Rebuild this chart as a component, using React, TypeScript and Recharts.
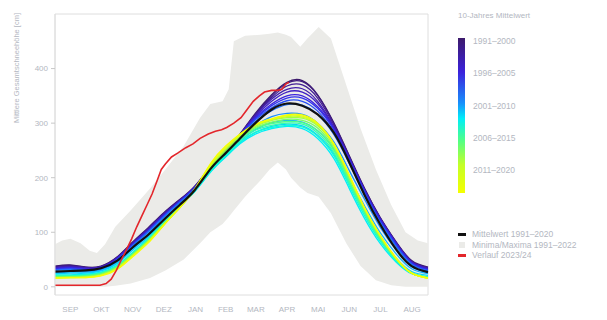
import React from 'react';
import { ComposedChart, Line, Area, XAxis, YAxis, ReferenceArea } from 'recharts';

// Semi-monthly sampling days, counted from 1 September
const days = [0, 15, 30, 45, 61, 76, 91, 106, 122, 137, 153, 167, 181, 196, 212, 227, 242, 257, 273, 288, 303, 318, 334, 349, 365];

const monthLabels = ['SEP', 'OKT', 'NOV', 'DEZ', 'JAN', 'FEB', 'MAR', 'APR', 'MAI', 'JUN', 'JUL', 'AUG'];
const monthStarts = [0, 30, 61, 91, 122, 153, 181, 212, 242, 273, 303, 334, 365];
const monthMids = monthStarts.slice(0, -1).map((s, i) => (s + monthStarts[i + 1]) / 2);
const yTicks = [0, 100, 200, 300, 400];

// 10-year running means of snow depth [cm]
const win1991 = [38, 40, 36, 38, 55, 82, 108, 135, 160, 185, 222, 250, 280, 318, 352, 375, 378, 352, 300, 240, 180, 128, 82, 48, 36];
const win1992 = [37, 39, 36, 37, 54, 81, 107, 134, 159, 184, 221, 249, 279, 316, 350, 373, 376, 351, 299, 239, 179, 127, 81, 47, 35];
const win1993 = [36, 38, 35, 37, 54, 80, 106, 133, 158, 184, 221, 249, 279, 315, 347, 368, 370, 346, 296, 237, 178, 126, 80, 46, 35];
const win1994 = [35, 37, 35, 36, 53, 80, 105, 132, 158, 183, 220, 248, 279, 314, 344, 362, 363, 340, 293, 236, 177, 126, 80, 46, 34];
const win1995 = [34, 36, 34, 36, 53, 79, 104, 131, 157, 183, 220, 248, 278, 312, 340, 357, 357, 336, 291, 235, 177, 125, 79, 45, 33];
const win1996 = [33, 35, 33, 35, 52, 78, 103, 130, 157, 183, 220, 248, 278, 310, 335, 350, 350, 330, 290, 235, 176, 124, 78, 44, 32];
const win1997 = [32, 34, 32, 34, 51, 77, 102, 129, 156, 182, 219, 247, 277, 308, 332, 346, 346, 327, 287, 232, 174, 122, 77, 43, 31];
const win1998 = [31, 33, 31, 33, 50, 76, 101, 128, 155, 181, 219, 247, 276, 306, 328, 341, 340, 322, 283, 229, 172, 120, 75, 42, 30];
const win1999 = [30, 32, 30, 32, 49, 75, 100, 127, 154, 180, 218, 246, 275, 303, 323, 334, 333, 316, 279, 226, 169, 118, 73, 41, 29];
const win2000 = [28, 29, 28, 31, 47, 72, 97, 124, 152, 178, 216, 243, 271, 295, 312, 318, 316, 300, 265, 213, 160, 110, 67, 37, 26];
const win2001 = [26, 27, 27, 30, 45, 70, 94, 122, 150, 177, 215, 241, 267, 288, 301, 305, 302, 286, 252, 200, 148, 100, 60, 33, 24];
const win2002 = [24, 25, 25, 29, 43, 67, 91, 120, 149, 176, 213, 239, 264, 283, 294, 298, 295, 278, 243, 190, 137, 90, 52, 28, 21];
const win2003 = [22, 22, 23, 27, 40, 63, 88, 118, 148, 175, 212, 238, 262, 280, 290, 294, 290, 272, 235, 180, 125, 80, 45, 24, 18];
const win2004 = [21, 21, 22, 26, 39, 62, 87, 117, 147, 176, 214, 240, 265, 283, 292, 296, 293, 276, 240, 185, 130, 84, 47, 25, 18];
const win2005 = [20, 20, 21, 25, 38, 61, 86, 116, 147, 177, 216, 243, 268, 287, 296, 300, 298, 282, 246, 190, 134, 87, 49, 25, 18];
const win2006 = [19, 19, 20, 24, 37, 60, 85, 115, 146, 178, 218, 246, 271, 290, 299, 303, 301, 286, 250, 194, 137, 89, 50, 25, 17];
const win2007 = [18, 18, 19, 23, 36, 59, 84, 114, 146, 178, 220, 248, 273, 292, 302, 307, 305, 291, 254, 198, 140, 91, 51, 25, 17];
const win2008 = [17, 18, 18, 22, 35, 58, 83, 113, 145, 179, 222, 251, 276, 294, 305, 310, 309, 295, 258, 201, 142, 93, 51, 25, 16];
const win2009 = [17, 17, 18, 21, 34, 57, 82, 113, 145, 179, 224, 253, 278, 296, 306, 312, 311, 297, 260, 203, 143, 94, 52, 25, 16];
const win2010 = [16, 17, 17, 21, 33, 56, 81, 112, 145, 180, 226, 255, 279, 297, 307, 314, 313, 299, 261, 204, 144, 95, 52, 25, 16];
const win2011 = [16, 17, 17, 20, 32, 55, 80, 112, 145, 180, 228, 258, 280, 298, 308, 315, 315, 300, 262, 205, 145, 95, 52, 25, 16];

const windowSeries = [
  win1991, win1992, win1993, win1994, win1995, win1996, win1997, win1998, win1999, win2000, win2001,
  win2002, win2003, win2004, win2005, win2006, win2007, win2008, win2009, win2010, win2011,
];
const windowColors = [
  '#3d1a6b', '#3f1c80', '#421d96', '#431fac', '#4020c4', '#3b22dc', '#3030ee', '#2850f5', '#2070fa', '#1890fc', '#10b0fd',
  '#08d0fc', '#00eef8', '#10fcd8', '#30ffb0', '#50ff88', '#78ff60', '#a0ff40', '#c4ff28', '#e2ff14', '#f5ff00',
];

// Mean 1991–2020
const meanValues = [28, 29, 30, 34, 48, 72, 95, 122, 150, 178, 218, 245, 272, 300, 325, 336, 332, 316, 282, 228, 168, 115, 68, 38, 27];

// Minimum / maximum envelope 1991–2022
const bandDays = [0, 7, 15, 25, 34, 41, 49, 59, 74, 93, 108, 126, 142, 152, 164, 170, 175, 186, 201, 210, 218, 226, 231, 240, 247, 258, 270, 285, 299, 314, 329, 343, 355, 365];
const bandMin = [0, 0, 0, 0, 0, 0, 0, 2, 6, 16, 30, 50, 80, 100, 115, 128, 140, 165, 195, 215, 228, 215, 200, 182, 172, 165, 135, 80, 38, 12, 3, 0, 0, 0];
const bandMax = [78, 85, 88, 80, 66, 62, 78, 110, 140, 180, 215, 258, 310, 335, 340, 362, 450, 460, 462, 464, 466, 462, 458, 440, 455, 476, 455, 370, 290, 215, 150, 100, 85, 80];

// Season 2023/24
const redDays = [0, 44, 50, 55, 60, 65, 70, 75, 80, 85, 90, 95, 100, 104, 108, 114, 120, 128, 135, 142, 150, 157, 163, 168, 175, 182, 188, 194, 200, 205, 212, 218, 222, 226, 229];
const redValues = [3, 3, 6, 14, 30, 50, 68, 88, 110, 130, 150, 170, 195, 215, 225, 238, 245, 255, 262, 272, 280, 285, 288, 292, 300, 310, 325, 340, 350, 357, 360, 360, 362, 372, 375];

const colorbarLabels = ['1991–2000', '1996–2005', '2001–2010', '2006–2015', '2011–2020'];

const FONT = '"Liberation Sans", Arial, Helvetica, sans-serif';
const TEXT = '#b3b7c1';
const FRAME = '#dedede';

export default function App() {
  const chartData = days.map((day, j) => {
    const row: Record<string, number> = { day, mean: meanValues[j] };
    windowSeries.forEach((s, i) => {
      row[`w${i}`] = s[j];
    });
    return row;
  });
  const bandData = bandDays.map((day, j) => ({ day, range: [bandMin[j], bandMax[j]] }));
  const redData = redDays.map((day, j) => ({ day, snow: redValues[j] }));

  const labelStyle: React.CSSProperties = {
    position: 'absolute',
    fontSize: 8.5,
    color: TEXT,
    whiteSpace: 'nowrap',
    lineHeight: '10px',
  };

  return (
    <div style={{ position: 'relative', width: 607, height: 320, margin: -8, fontFamily: FONT, overflow: 'hidden', background: '#fff' }}>
      <div style={{ position: 'absolute', left: 15, top: -3, fontSize: 9.5, fontWeight: 'bold', color: '#2d6bc4', whiteSpace: 'nowrap', lineHeight: '10px' }}>
        stationen über 2000 m ü.M., Gesamtalpen
      </div>
      <div
        style={{
          position: 'absolute', left: 17 - 70, top: 68 - 5, width: 140, height: 10, lineHeight: '10px',
          textAlign: 'center', fontSize: 7.5, color: TEXT, whiteSpace: 'nowrap', transform: 'rotate(-90deg)',
        }}
      >
        Mittlere Gesamtschneehöhe [cm]
      </div>

      <div style={{ position: 'absolute', left: 0, top: 0 }}>
        <ComposedChart width={607} height={320} data={chartData} margin={{ top: 14, right: 179, bottom: 0, left: 25 }}>
          <XAxis
            xAxisId="edges"
            dataKey="day"
            type="number"
            domain={[0, 365]}
            ticks={monthStarts}
            tickFormatter={() => ''}
            height={0}
            tickSize={4}
            axisLine={{ stroke: FRAME }}
            tickLine={{ stroke: FRAME }}
          />
          <XAxis
            xAxisId="months"
            dataKey="day"
            type="number"
            domain={[0, 365]}
            ticks={monthMids}
            tickFormatter={(v: number) => monthLabels[monthMids.indexOf(v)] ?? ''}
            height={25}
            tickSize={6}
            tickMargin={5}
            axisLine={false}
            tickLine={false}
            interval={0}
            tick={{ fontSize: 8, fill: TEXT, fontFamily: FONT }}
          />
          <YAxis
            type="number"
            domain={[-15, 500]}
            ticks={yTicks}
            width={30}
            tickSize={4}
            tickMargin={3}
            axisLine={{ stroke: FRAME }}
            tickLine={{ stroke: '#c8c8c8' }}
            tick={{ fontSize: 8, fill: TEXT, fontFamily: FONT }}
          />
          <ReferenceArea xAxisId="edges" x1={0} x2={365} y1={-15} y2={500} fill="none" stroke={FRAME} strokeWidth={1} />
          <Area
            xAxisId="edges"
            data={bandData}
            dataKey="range"
            type="linear"
            fill="#ebebe8"
            fillOpacity={1}
            stroke="none"
            isAnimationActive={false}
          />
          {windowSeries.map((_, i) => (
            <Line
              key={i}
              xAxisId="edges"
              dataKey={`w${i}`}
              type="natural"
              stroke={windowColors[i]}
              strokeWidth={1.3}
              dot={false}
              isAnimationActive={false}
            />
          ))}
          <Line xAxisId="months" dataKey="mean" type="natural" stroke="#111111" strokeWidth={2.2} dot={false} isAnimationActive={false} />
          <Line xAxisId="edges" data={redData} dataKey="snow" type="linear" stroke="#e3262b" strokeWidth={1.6} dot={false} isAnimationActive={false} />
        </ComposedChart>
      </div>

      {/* colour scale legend for the 10-year means */}
      <div style={{ ...labelStyle, left: 458, top: 11, fontSize: 8 }}>10-Jahres Mittelwert</div>
      <div
        style={{
          position: 'absolute', left: 458, top: 38, width: 7, height: 155,
          background: 'linear-gradient(to bottom, #3d1a6b 0%, #3b22dc 22%, #1890fc 42%, #00eef8 52%, #50ff88 66%, #c4ff28 82%, #f5ff00 100%)',
        }}
      />
      {colorbarLabels.map((t, i) => (
        <div key={t} style={{ ...labelStyle, left: 473, top: 36 + i * 32.25 }}>{t}</div>
      ))}

      {/* series legend */}
      <div style={{ position: 'absolute', left: 458, top: 233, width: 8, height: 2.5, background: '#111' }} />
      <div style={{ ...labelStyle, left: 472, top: 229 }}>Mittelwert 1991–2020</div>
      <div style={{ position: 'absolute', left: 459, top: 242, width: 6, height: 6, background: '#ebebe8' }} />
      <div style={{ ...labelStyle, left: 472, top: 239.5 }}>Minima/Maxima 1991–2022</div>
      <div style={{ position: 'absolute', left: 458, top: 254, width: 8, height: 2.5, background: '#e3262b' }} />
      <div style={{ ...labelStyle, left: 472, top: 250 }}>Verlauf 2023/24</div>
    </div>
  );
}
